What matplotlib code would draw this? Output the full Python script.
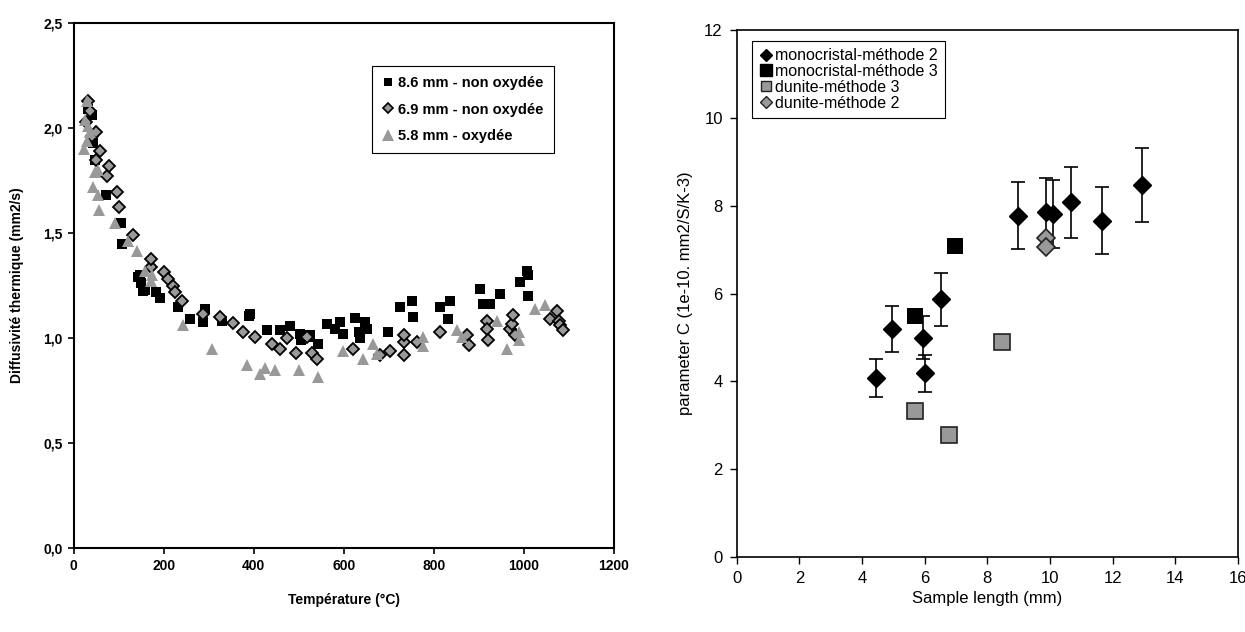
import matplotlib
matplotlib.use("Agg")
import matplotlib.pyplot as plt
from matplotlib.lines import Line2D
from matplotlib.ticker import FuncFormatter

plt.rcParams["font.family"] = ["Liberation Sans", "DejaVu Sans"]

# ---- left panel: diffusivity vs temperature ----
T_86 = [33, 40, 44, 48, 72, 105, 107, 144, 147, 150, 155, 159, 184, 192, 233, 259, 288, 292, 329, 389,
        391, 429, 458, 481, 503, 506, 521, 525, 543, 562, 581, 592, 598, 625, 633, 636, 647, 651, 699, 725,
        751, 754, 814, 832, 836, 903, 909, 925, 947, 992, 1007, 1008, 1010]
D_86 = [2.09, 2.06, 1.93, 1.85, 1.68, 1.55, 1.45, 1.29, 1.30, 1.26, 1.225, 1.23, 1.22, 1.19, 1.15, 1.09, 1.075, 1.14, 1.08, 1.107,
        1.115, 1.036, 1.036, 1.056, 1.02, 0.99, 1.004, 1.012, 0.97, 1.067, 1.044, 1.075, 1.02, 1.094, 1.028, 1.00, 1.075, 1.044, 1.03, 1.147,
        1.178, 1.10, 1.147, 1.09, 1.178, 1.233, 1.162, 1.162, 1.21, 1.265, 1.32, 1.30, 1.20]

T_69 = [28, 32, 36, 40, 51, 51, 59, 75, 79, 96, 102, 131, 171, 172, 201, 210, 222, 226, 240, 288,
        325, 355, 377, 403, 440, 458, 474, 495, 518, 529, 540, 620, 681, 703, 733, 733, 733, 763, 814, 873,
        877, 917, 917, 921, 968, 973, 975, 980, 1058, 1073, 1077, 1080, 1086]
D_69 = [2.03, 2.13, 2.08, 1.96, 1.98, 1.85, 1.89, 1.77, 1.82, 1.695, 1.625, 1.49, 1.34, 1.375, 1.315, 1.28, 1.25, 1.218, 1.178, 1.115,
        1.10, 1.07, 1.03, 1.004, 0.97, 0.95, 1.00, 0.93, 1.004, 0.93, 0.90, 0.95, 0.917, 0.936, 0.917, 0.98, 1.012, 0.983, 1.028, 1.012,
        0.965, 1.083, 1.044, 0.99, 1.044, 1.067, 1.11, 1.012, 1.09, 1.13, 1.08, 1.06, 1.036]

T_58 = [24, 26, 29, 29, 32, 36, 44, 48, 55, 55, 57, 92, 122, 140, 159, 171, 174, 244, 307, 385,
        414, 425, 447, 501, 543, 598, 643, 666, 673, 775, 775, 851, 862, 940, 963, 988, 988, 1025, 1047]
D_58 = [1.90, 2.04, 2.13, 1.94, 2.01, 1.98, 1.72, 1.79, 1.80, 1.68, 1.61, 1.55, 1.46, 1.415, 1.32, 1.27, 1.30, 1.06, 0.95, 0.87,
        0.83, 0.855, 0.846, 0.846, 0.815, 0.94, 0.90, 0.972, 0.925, 1.004, 0.96, 1.036, 1.004, 1.083, 0.95, 1.028, 0.99, 1.14, 1.155]

LEFT_LABELS = ["8.6 mm - non oxydée", "6.9 mm - non oxydée", "5.8 mm - oxydée"]

# ---- right panel: parameter C vs sample length ----
L_m2 = [4.44, 4.96, 5.94, 6.02, 6.51, 8.99, 9.86, 10.09, 10.67, 11.65, 12.93]
C_m2 = [4.07, 5.19, 4.99, 4.18, 5.87, 7.77, 7.85, 7.81, 8.08, 7.66, 8.47]
E_m2 = [0.43, 0.52, 0.49, 0.42, 0.60, 0.76, 0.78, 0.78, 0.81, 0.77, 0.85]
L_m3 = [5.70, 6.98]
C_m3 = [5.49, 7.09]
L_d3 = [5.69, 6.79, 8.46]
C_d3 = [3.33, 2.78, 4.90]
L_d2 = [9.86, 9.86]
C_d2 = [7.26, 7.05]
RIGHT_LABELS = ["monocristal-méthode 2", "monocristal-méthode 3", "dunite-méthode 3", "dunite-méthode 2"]

GRAY = "#999999"
W, H = 1245, 632
fig = plt.figure(figsize=(W / 100, H / 100), dpi=100)

ax1 = fig.add_axes([73.5 / W, 1 - 548 / H, (614 - 73.5) / W, (548 - 23) / H])
ax1.plot(T_86, D_86, "s", color="black", ms=6.5, mew=0, label=LEFT_LABELS[0])
ax1.plot(T_69, D_69, "D", mfc=GRAY, mec="black", mew=1.3, ms=5.8, label=LEFT_LABELS[1])
ax1.plot(T_58, D_58, "^", color=GRAY, mew=0, ms=8.5, label=LEFT_LABELS[2])
ax1.set_xlim(0, 1200); ax1.set_ylim(0, 2.5)
ax1.set_xticks(range(0, 1201, 200)); ax1.set_yticks([0, 0.5, 1, 1.5, 2, 2.5])
ax1.yaxis.set_major_formatter(FuncFormatter(lambda v, p: f"{v:.1f}".replace(".", ",")))
ax1.tick_params(direction="out", length=4, width=1.2, labelsize=10, pad=4)
for t in ax1.get_xticklabels() + ax1.get_yticklabels(): t.set_fontweight("bold")
for s in ax1.spines.values(): s.set_linewidth(1.5)
ax1.set_xlabel("Température (°C)", fontsize=10, fontweight="bold", labelpad=14)
ax1.set_ylabel("Diffusivité thermique (mm2/s)", fontsize=10, fontweight="bold", labelpad=14)
lh = [Line2D([], [], ls="", marker="s", color="black", ms=6, mew=0),
      Line2D([], [], ls="", marker="D", mfc=GRAY, mec="black", mew=1.2, ms=5.5),
      Line2D([], [], ls="", marker="^", color=GRAY, ms=8, mew=0)]
leg1 = ax1.legend(lh, LEFT_LABELS, loc="upper left", bbox_to_anchor=(372 / W, 1 - 66 / H),
                  bbox_transform=fig.transFigure, fancybox=False, edgecolor="black", framealpha=1,
                  prop={"weight": "bold", "size": 10.5}, handlelength=0.8, handletextpad=0.3,
                  labelspacing=0.85, borderpad=0.7, borderaxespad=0)
leg1.get_frame().set_linewidth(0.8)

ax2 = fig.add_axes([736.7 / W, 1 - 557 / H, (1238 - 736.7) / W, (557 - 30) / H])
ax2.errorbar(L_m2, C_m2, yerr=E_m2, fmt="D", color="black", ms=9, capsize=5, elinewidth=1.2, capthick=1.2, zorder=3)
ax2.plot(L_m3, C_m3, "s", color="black", ms=12, mew=0, zorder=4)
ax2.plot(L_d3, C_d3, "s", mfc=GRAY, mec="#222222", mew=1.2, ms=11.5, zorder=4)
ax2.plot(L_d2, C_d2, "D", mfc=GRAY, mec="#222222", mew=1.2, ms=9, zorder=5)
ax2.set_xlim(0, 16); ax2.set_ylim(0, 12)
ax2.set_xticks(range(0, 17, 2)); ax2.set_yticks(range(0, 13, 2))
ax2.tick_params(direction="out", length=5, width=1, labelsize=12, pad=5)
for s in ax2.spines.values(): s.set_linewidth(1.2)
ax2.set_xlabel("Sample length (mm)", fontsize=12, labelpad=4)
ax2.set_ylabel("parameter C (1e-10. mm2/S/K-3)", fontsize=12, labelpad=8)
rh = [Line2D([], [], ls="", marker="D", color="black", ms=6),
      Line2D([], [], ls="", marker="s", color="black", ms=8),
      Line2D([], [], ls="", marker="s", mfc=GRAY, mec="#222222", mew=1, ms=7.5),
      Line2D([], [], ls="", marker="D", mfc=GRAY, mec="#222222", mew=1, ms=6)]
leg2 = ax2.legend(rh, RIGHT_LABELS, loc="upper left", bbox_to_anchor=(752 / W, 1 - 41 / H),
                  bbox_transform=fig.transFigure, fancybox=False, edgecolor="black", framealpha=1,
                  fontsize=11.5, handlelength=0.8, handletextpad=0.2, labelspacing=0.05,
                  borderpad=0.45, borderaxespad=0)
leg2.get_frame().set_linewidth(0.8)

fig.savefig("out.png", dpi=100)
